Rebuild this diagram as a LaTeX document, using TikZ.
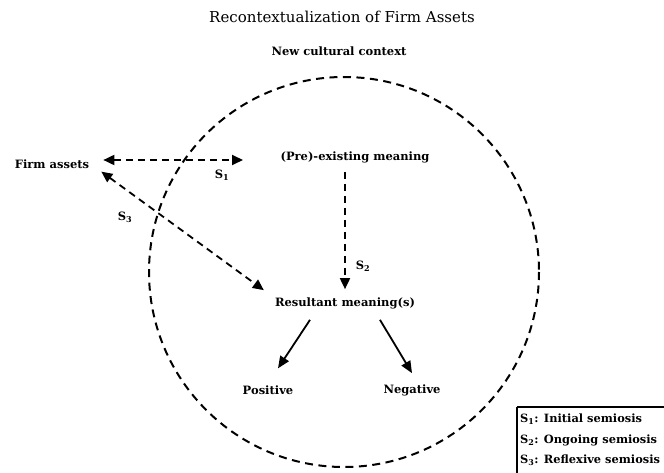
\documentclass[tikz,border=0pt]{standalone}
\usepackage{fontspec}
\setmainfont{DejaVu Serif}
\usetikzlibrary{arrows.meta}
\tikzset{
  lbl/.style={font=\bfseries\fontsize{11.5}{13}\selectfont, inner sep=1pt},
  keytext/.style={font=\bfseries\fontsize{11.4}{13}\selectfont, inner sep=1pt, anchor=west},
  dasharrow/.style={line width=1.8pt, dash pattern=on 7pt off 5pt, -{Triangle[length=11pt,width=10pt]}},
  dashboth/.style={line width=1.8pt, dash pattern=on 7pt off 5pt, {Triangle[length=11pt,width=10pt]}-{Triangle[length=11pt,width=10pt]}},
  solidarrow/.style={line width=1.8pt, -{Triangle[length=12pt,width=10pt]}},
  ring/.style={line width=2pt, dash pattern=on 8pt off 5.5pt},
}
\begin{document}
\begin{tikzpicture}[x=1pt,y=-1pt]
\useasboundingbox (0,0) rectangle (664,473);
\fill[white] (0,0) rectangle (664,473);
% title
\node[font=\fontsize{15}{17}\selectfont] (title) at (342,17) {Recontextualization of Firm Assets};
\node[lbl] (ctx) at (339,51) {New cultural context};
% circle
\draw[ring] (344,272) circle[radius=195];
% nodes
\node[lbl] (firm) at (52,164) {Firm assets};
\node[lbl] (pre) at (355,157) {(Pre)-existing meaning};
\node[lbl] (res) at (345,303) {Resultant meaning(s)};
\node[lbl] (pos) at (268,390) {Positive};
\node[lbl] (neg) at (412,390) {Negative};
% connectors
\coordinate (s1r) at (243,160);
\draw[dashboth] ([xshift=13pt,yshift=4pt]firm.east) -- (s1r);
\draw[dasharrow] ([yshift=-8pt]pre.south -| res.north) -- ([yshift=7pt]res.north);
\draw[dashboth] ([xshift=11pt,yshift=-2pt]firm.south east) -- ([xshift=-10pt,yshift=6pt]res.north west);
\draw[solidarrow] ([xshift=-35pt,yshift=-10pt]res.south) -- ([xshift=10pt,yshift=16pt]pos.north);
\draw[solidarrow] ([xshift=35pt,yshift=-10pt]res.south) -- ([xshift=0pt,yshift=10pt]neg.north);
% labels
\node[lbl] (l1) at (222,175) {S\textsubscript{1}};
\node[lbl] (l2) at (363,266) {S\textsubscript{2}};
\node[lbl] (l3) at (125,217) {S\textsubscript{3}};
% legend
\draw[line width=1.2pt] (517,407) -- (670,407);
\draw[line width=1.2pt] (517,407) -- (517,480);
\node[keytext] (k1) at (519,419) {S\textsubscript{1}: Initial semiosis};
\node[keytext] (k2) at (519,440) {S\textsubscript{2}: Ongoing semiosis};
\node[keytext] (k3) at (519,460) {S\textsubscript{3}: Reflexive semiosis};
\end{tikzpicture}
\end{document}
